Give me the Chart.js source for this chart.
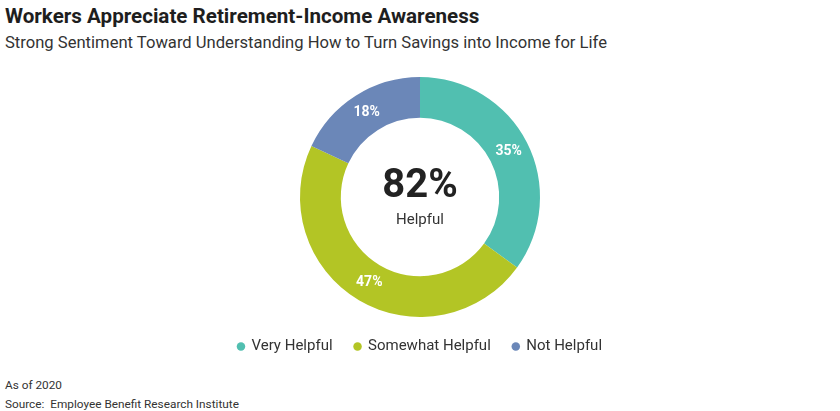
<!DOCTYPE html>
<html lang="en">
<head>
    <meta charset="UTF-8">
    <title>Workers Appreciate Retirement-Income Awareness</title>
    <script src="https://cdn.jsdelivr.net/npm/chart.js"></script>
    <style>
        body {
            margin: 0;
            padding: 0;
            width: 840px;
            height: 411px;
            position: relative;
            background: #fff;
            font-family: Roboto, Arial, sans-serif;
            overflow: hidden;
        }

        h1 {
            position: absolute;
            left: 5px;
            top: 4px;
            margin: 0;
            font-size: 20.6px;
            font-weight: bold;
            color: #1e1e1e;
        }

        .subtitle {
            position: absolute;
            left: 5px;
            top: 33px;
            font-size: 16.6px;
            color: #333;
        }

        .chart-box {
            position: absolute;
            left: 0;
            top: 71px;
            width: 840px;
            height: 293px;
        }

        .note {
            position: absolute;
            left: 5px;
            font-size: 11.8px;
            color: #333;
        }
    </style>
</head>
<body>
    <h1>Workers Appreciate Retirement-Income Awareness</h1>
    <div class="subtitle">Strong Sentiment Toward Understanding How to Turn Savings into Income for Life</div>

    <div class="chart-box">
        <canvas id="helpfulChart"></canvas>
    </div>

    <div class="note" style="top: 378px;">As of 2020</div>
    <div class="note" style="top: 397px;">Source:&nbsp; Employee Benefit Research Institute</div>

    <script>
        const categories = ['Very Helpful', 'Somewhat Helpful', 'Not Helpful'];
        const shares = [35, 47, 18];
        const colors = ['#51bfb0', '#b3c525', '#6b87b8'];
        const centerValue = '82%';
        const centerLabel = 'Helpful';

        // labels on the ring + the total in the middle
        const donutText = {
            id: 'donutText',
            afterDatasetsDraw(chart) {
                const ctx = chart.ctx;
                const meta = chart.getDatasetMeta(0);
                ctx.save();
                ctx.textAlign = 'center';
                ctx.textBaseline = 'middle';
                ctx.fillStyle = '#fff';
                ctx.font = 'bold 14px Roboto, Arial, sans-serif';
                meta.data.forEach((arc, i) => {
                    const p = arc.tooltipPosition();
                    ctx.fillText(shares[i] + '%', p.x, p.y);
                });

                const cx = (chart.chartArea.left + chart.chartArea.right) / 2;
                const cy = (chart.chartArea.top + chart.chartArea.bottom) / 2;
                ctx.fillStyle = '#222';
                ctx.font = 'bold 40px Roboto, Arial, sans-serif';
                ctx.fillText(centerValue, cx, cy - 10);
                ctx.fillStyle = '#333';
                ctx.font = '15px Roboto, Arial, sans-serif';
                ctx.fillText(centerLabel, cx, cy + 23);
                ctx.restore();
            }
        };

        new Chart(document.getElementById('helpfulChart'), {
            type: 'doughnut',
            data: {
                labels: categories,
                datasets: [{
                    data: shares,
                    backgroundColor: colors,
                    borderWidth: 0
                }]
            },
            options: {
                responsive: true,
                maintainAspectRatio: false,
                animation: false,
                cutout: '66%',
                layout: {
                    padding: { top: 6, bottom: 0 }
                },
                plugins: {
                    legend: {
                        position: 'bottom',
                        labels: {
                            usePointStyle: true,
                            pointStyle: 'circle',
                            boxWidth: 6,
                            boxHeight: 6,
                            padding: 22,
                            color: '#333',
                            font: { size: 15, family: 'Roboto, Arial, sans-serif' }
                        }
                    },
                    tooltip: { enabled: false }
                }
            },
            plugins: [donutText]
        });
    </script>
</body>
</html>
